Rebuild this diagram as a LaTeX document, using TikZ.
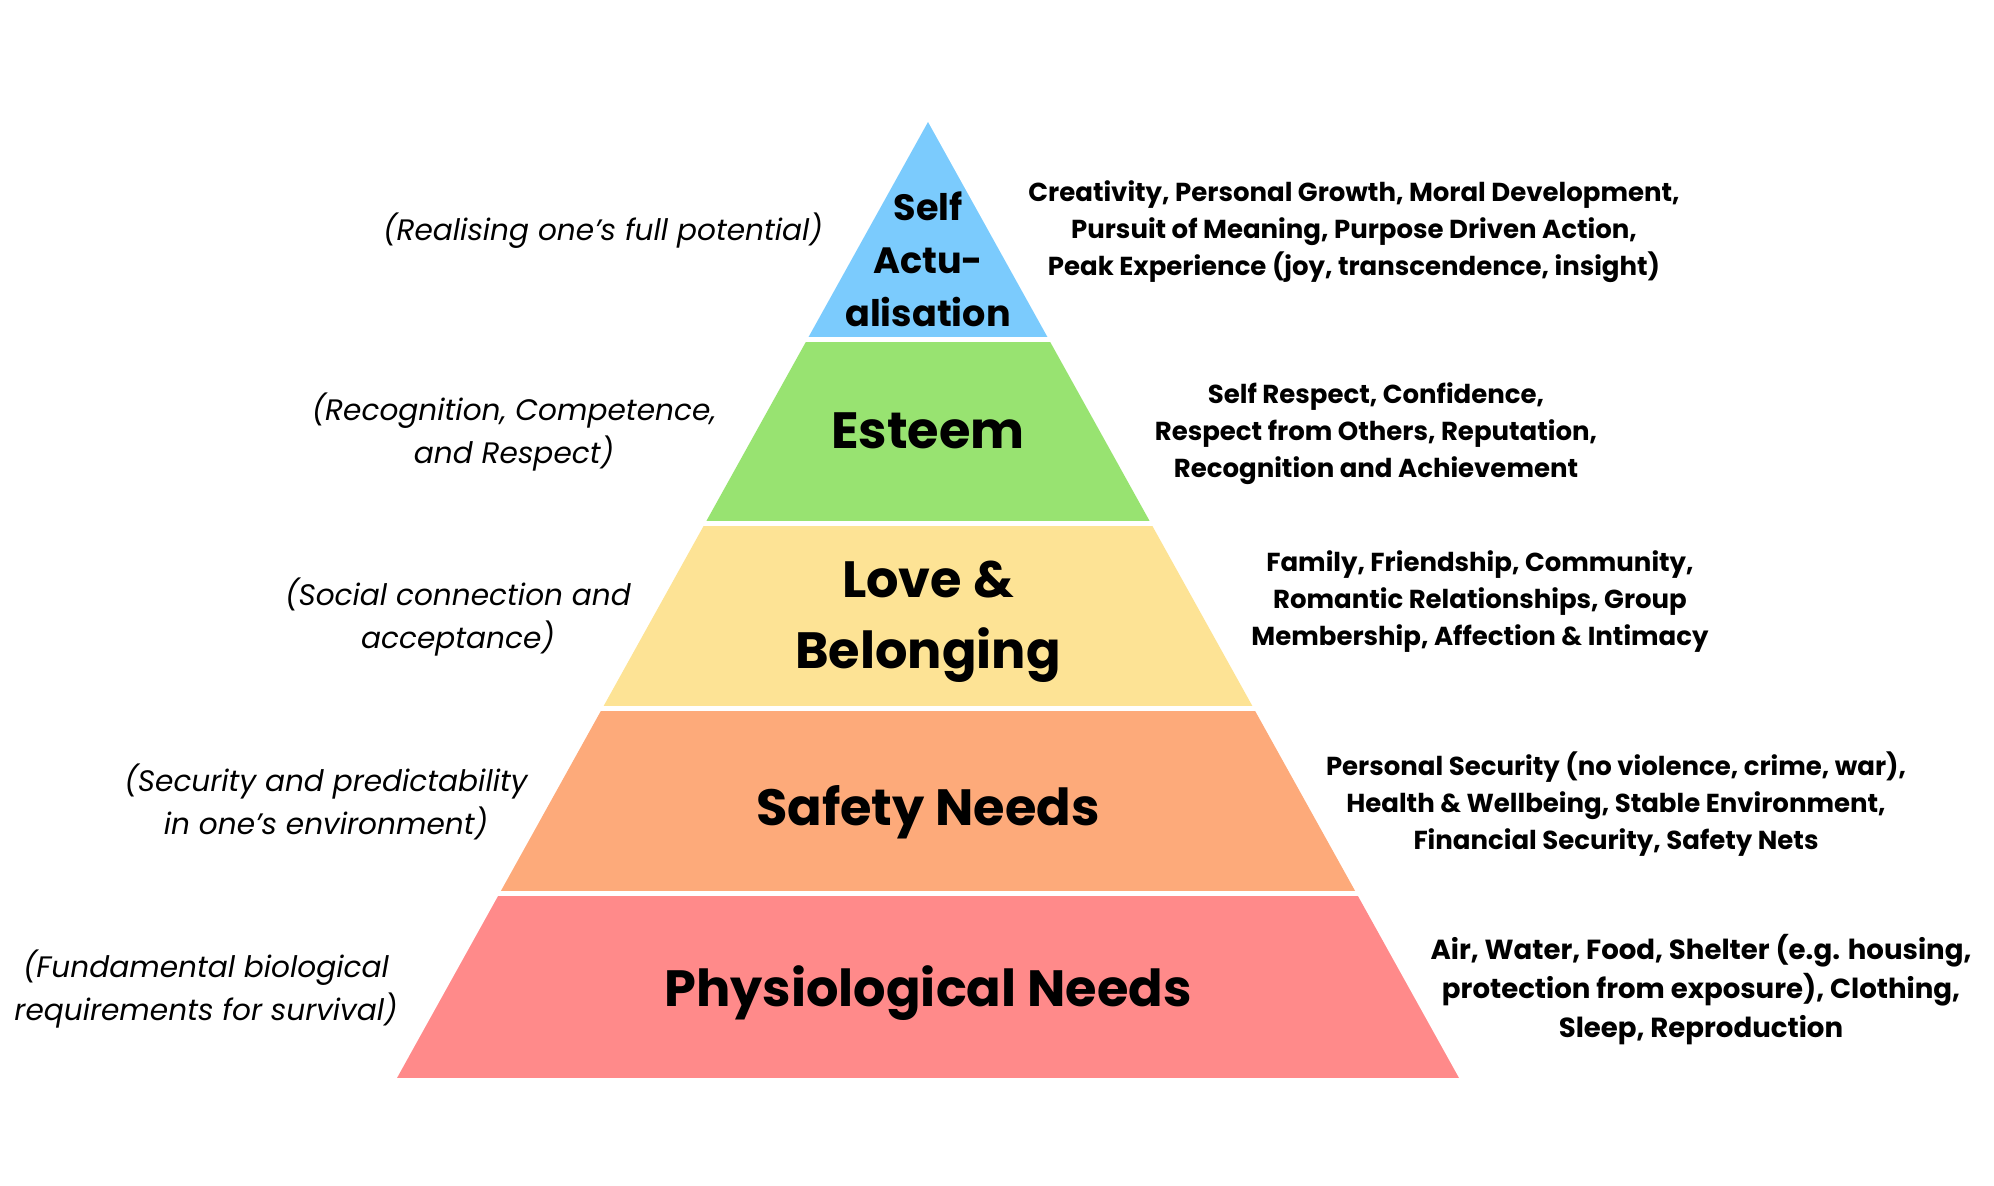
\documentclass[tikz,border=0pt]{standalone}
\usepackage{fontspec}
\setmainfont{Poppins}
\usepackage{tikz}
\usetikzlibrary{calc,positioning}
\definecolor{selfc}{HTML}{7BCBFD}
\definecolor{esteemc}{HTML}{98E371}
\definecolor{lovec}{HTML}{FDE395}
\definecolor{safetyc}{HTML}{FDAA7A}
\definecolor{physc}{HTML}{FF8A8A}
\tikzset{
  level/.style={font=\bfseries\fontsize{25.5}{35.5}\selectfont, align=center, inner sep=0pt},
  toplevel/.style={font=\bfseries\fontsize{18.3}{26.5}\selectfont, align=center, inner sep=0pt},
  detail/.style={font=\bfseries\fontsize{13}{18.5}\selectfont, align=center, inner sep=0pt},
  remark/.style={font=\itshape\fontsize{14.8}{21.5}\selectfont, align=center, inner sep=0pt},
  gap/.style={white, line width=2.5pt}
}
\begin{document}
\begin{tikzpicture}[x=0.5pt,y=-0.5pt]
		\useasboundingbox (0,0) rectangle (1994,1186);
		\coordinate (T) at(928,122);
		\coordinate (L) at(397,1078);
		\coordinate (R) at(1459,1078);

		% pyramid layers
		\foreach \a/\b/\c in {0/0.2270/selfc, 0.2270/0.4202/esteemc, 0.4202/0.6135/lovec, 0.6135/0.8067/safetyc, 0.8067/1/physc}
			\fill[\c] ($(T)!\a!(L)$) -- ($(T)!\b!(L)$) -- ($(T)!\b!(R)$) -- ($(T)!\a!(R)$) -- cycle;
		\foreach \a in {0.2270,0.4202,0.6135,0.8067}
			\draw[gap] ($(T)!\a!(L)+(-10,0)$) -- ($(T)!\a!(R)+(10,0)$);

		% level names
		\node[toplevel] (self) at(928,259) {Self\\Actu-\\alisation};
		\node[level] (esteem) at(928,431) {Esteem};
		\node[level] (love) at(928,622) {Love \&\\Belonging};
		\node[level] (safety) at(928,812) {Safety Needs};
		\node[level] (phys) at(928,993) {Physiological Needs};

		% remarks on the left
		\node[remark] (selfL) at(603,231) {(Realising one’s full potential)};
		\node[remark] (esteemL) at(514,432) {(Recognition, Competence,\\and Respect)};
		\node[remark] (loveL) at(458,617) {(Social connection and\\acceptance)};
		\node[remark] (safetyL) at(326,802) {(Security and predictability\\in one’s environment)};
		\node[remark] (physL) at(206,989) {(Fundamental biological\\requirements for survival)};

		% details on the right
		\node[detail] (selfR) at(1354,232) {Creativity, Personal Growth, Moral Development,\\Pursuit of Meaning, Purpose Driven Action,\\Peak Experience (joy, transcendence, insight)};
		\node[detail] (esteemR) at(1376,434) {Self Respect, Confidence,\\Respect from Others, Reputation,\\Recognition and Achievement};
		\node[detail] (loveR) at(1480,602) {Family, Friendship, Community,\\Romantic Relationships, Group\\Membership, Affection \& Intimacy};
		\node[detail] (safetyR) at(1616,804) {Personal Security (no violence, crime, war),\\Health \& Wellbeing, Stable Environment,\\Financial Security, Safety Nets};
		\node[detail, font=\bfseries\fontsize{13.8}{19.5}\selectfont] (physR) at(1701,990) {Air, Water, Food, Shelter (e.g. housing,\\protection from exposure), Clothing,\\Sleep, Reproduction};
	\end{tikzpicture}
\end{document}
